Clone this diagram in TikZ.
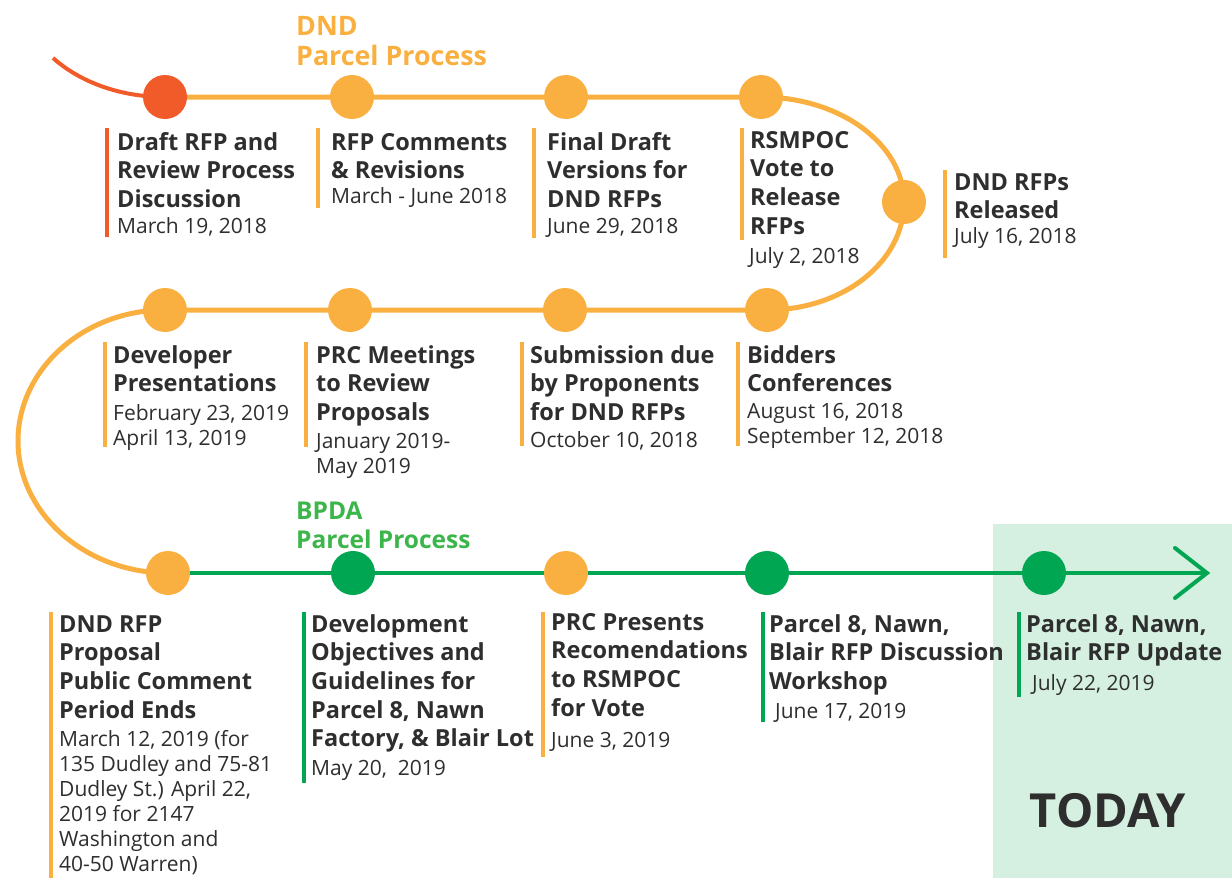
\documentclass[tikz,border=0pt]{standalone}
\usepackage{fontspec}
\setmainfont{Open Sans}
\usetikzlibrary{backgrounds}
\definecolor{dndorange}{HTML}{FAB040}
\definecolor{dndred}{HTML}{F15A29}
\definecolor{bpdagreen}{HTML}{00A651}
\definecolor{bpdatitle}{HTML}{3CB54A}
\definecolor{todaybg}{HTML}{D5F0E0}
\definecolor{txt}{HTML}{2E2E2E}
\newcommand{\ttlfont}{\bfseries\fontsize{23.5}{28.7}\selectfont}
\newcommand{\dtfont}{\fontsize{21}{25}\selectfont}
% note: anchor=base west of a multi-line node is the baseline of its LAST line
\tikzset{
  dot/.style={circle, fill=#1, minimum size=44pt, inner sep=0pt},
  ttl/.style={font=\ttlfont, align=left, inner sep=0pt, text=txt, anchor=base west},
  dt/.style={font=\dtfont, align=left, inner sep=0pt, text=txt, anchor=base west},
  bar/.style={draw=#1, line width=4pt},
  oline/.style={draw=dndorange, line width=5pt},
  rline/.style={draw=dndred, line width=4pt},
  gline/.style={draw=bpdagreen, line width=4pt},
  hdr/.style={align=left, inner sep=0pt, anchor=base west}
}
\begin{document}
\begin{tikzpicture}[x=1pt,y=-1pt]
\useasboundingbox (0,0) rectangle (1232,878);
% circles
\node[dot=dndred] (a1) at (165,97) {};
\node[dot=dndorange] (a2) at (352,97) {};
\node[dot=dndorange] (a3) at (566,97) {};
\node[dot=dndorange] (a4) at (761,97) {};
\node[dot=dndorange] (a5) at (904,202) {};
\node[dot=dndorange] (b1) at (767,310) {};
\node[dot=dndorange] (b2) at (565,310) {};
\node[dot=dndorange] (b3) at (350,310) {};
\node[dot=dndorange] (b4) at (165,310) {};
\node[dot=dndorange] (c1) at (168,573) {};
\node[dot=bpdagreen] (c2) at (353,573) {};
\node[dot=dndorange] (c3) at (566,573) {};
\node[dot=bpdagreen] (c4) at (767,573) {};
\node[dot=bpdagreen] (c5) at (1044,573) {};
\coordinate (start) at (53,58);
\coordinate (L) at (18,441);
\coordinate (tip) at (1207,573);
\begin{scope}[on background layer]
  \fill[todaybg] (993,524) rectangle (1232,878);
  \draw[rline] (start) .. controls (80,82) and (120,97) .. (a1.center);
  \draw[oline] (a1.center) -- (a4.center)
     .. controls +(79,0) and +(0,-58) .. (a5.center)
     .. controls +(0,60) and +(76,0) .. (b1.center)
     -- (b4.center)
     .. controls +(-81,0) and +(0,-72) .. (L)
     .. controls +(0,72) and +(-83,0) .. (c1.center);
  \draw[gline] (c1.center) -- (tip);
  \draw[gline, line cap=round, line join=miter] ([shift={(-32,-25)}]tip) -- (tip) -- ([shift={(-32,25)}]tip);
\end{scope}
% headers
\node[hdr, text=dndorange, font=\bfseries\fontsize{26.8}{30}\selectfont] (hdnd) at (296,65) {DND\\Parcel Process};
\node[hdr, text=bpdatitle, font=\bfseries\fontsize{24.5}{29}\selectfont] (hbpda) at (296,548) {BPDA\\Parcel Process};
% row 1 labels
\draw[bar=dndred] (107,128) -- (107,237);
\node[ttl] (t1) at (117,207.4) {Draft RFP and\\Review Process\\Discussion};
\node[dt] (d1) at (117,233) {March 19, 2018};
\draw[bar=dndorange] (318,128) -- (318,208);
\node[ttl] (t2) at (331,178.7) {RFP Comments\\\& Revisions};
\node[dt] (d2) at (331,203) {March - June 2018};
\draw[bar=dndorange] (534,128) -- (534,238);
\node[ttl] (t3) at (547,207.4) {Final Draft\\Versions for\\DND RFPs};
\node[dt] (d3) at (547,233) {June 29, 2018};
\draw[bar=dndorange] (742,128) -- (742,240);
\node[ttl] (t4) at (750,234.1) {RSMPOC\\Vote to\\Release\\RFPs};
\node[dt] (d4) at (749,263) {July 2, 2018};
\draw[bar=dndorange] (945,170) -- (945,258);
\node[ttl] (t5) at (954,218.7) {DND RFPs\\Released};
\node[dt] (d5) at (954,243) {July 16, 2018};
% row 2 labels
\draw[bar=dndorange] (105,342) -- (105,447);
\node[ttl] (t6) at (113,391.7) {Developer\\Presentations};
\node[dt] (d6) at (113,445) {February 23, 2019\\April 13, 2019};
\draw[bar=dndorange] (306,342) -- (306,447);
\node[ttl] (t7) at (316,420.4) {PRC Meetings\\to Review\\Proposals};
\node[dt] (d7) at (316,473) {January 2019-\\May 2019};
\draw[bar=dndorange] (522,342) -- (522,446);
\node[ttl] (t8) at (530,420.4) {Submission due\\by Proponents\\for DND RFPs};
\node[dt] (d8) at (530,447) {October 10, 2018};
\draw[bar=dndorange] (738,342) -- (738,446);
\node[ttl] (t9) at (747,391.7) {Bidders\\Conferences};
\node[dt] (d9) at (747,443) {August 16, 2018\\September 12, 2018};
% row 3 labels
\draw[bar=dndorange] (51,612) -- (51,878);
\node[ttl] (t10) at (59,718.1) {DND RFP\\Proposal\\Public Comment\\Period Ends};
\node[dt] (d10) at (59,871) {March 12, 2019 (for\\135 Dudley and 75-81\\Dudley St.) April 22,\\2019 for 2147\\Washington and\\40-50 Warren)};
\draw[bar=bpdagreen] (304,612) -- (304,783);
\node[ttl] (t11) at (311,746.8) {Development\\Objectives and\\Guidelines for\\Parcel 8, Nawn\\Factory, \& Blair Lot};
\node[dt] (d11) at (311,775) {May 20,\ \ 2019};
\draw[bar=dndorange] (543,612) -- (543,757);
\node[ttl] (t12) at (551,716.1) {PRC Presents\\Recomendations\\to RSMPOC\\for Vote};
\node[dt] (d12) at (551,747) {June 3, 2019};
\draw[bar=bpdagreen] (763,612) -- (763,722);
\node[ttl] (t13) at (769,689.4) {Parcel 8, Nawn,\\Blair RFP Discussion\\Workshop};
\node[dt] (d13) at (775,718) {June 17, 2019};
\draw[bar=bpdagreen] (1019,612) -- (1019,697);
\node[ttl] (t14) at (1026,660.7) {Parcel 8, Nawn,\\Blair RFP Update};
\node[dt] (d14) at (1032,690) {July 22, 2019};
% today
\node[inner sep=0pt, anchor=base, text=txt, font=\bfseries\fontsize{47}{50}\selectfont] (today) at (1108,827) {TODAY};
\end{tikzpicture}
\end{document}
